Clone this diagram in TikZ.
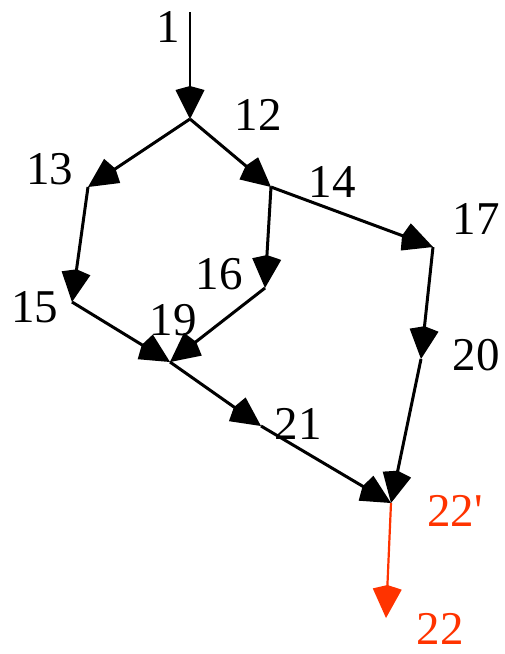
\documentclass[tikz,border=0pt]{standalone}
\usepackage{fontspec}
\setmainfont{Liberation Serif}[Ligatures=TeXOff]
\usetikzlibrary{arrows.meta}
\definecolor{redflow}{RGB}{255,51,0}
\tikzset{
  tiphead/.tip={Kite[length=33pt,width=29pt,inset=4pt]},
  flow/.style={line width=3pt, -tiphead},
  thinflow/.style={line width=1.8pt, -tiphead},
  redarrow/.style={line width=2.2pt, draw=redflow, -{Kite[length=33pt,width=29pt,inset=4pt,fill=redflow]}},
  lbl/.style={inner sep=0pt, font=\fontsize{47}{47}\selectfont},
  redlbl/.style={lbl, text=redflow}
}
\begin{document}
\begin{tikzpicture}[x=1pt,y=-1pt]
\useasboundingbox (0,0) rectangle (505,654);
% points
\coordinate (n1) at (190,12);
\coordinate (n12) at (190,119);
\coordinate (n13) at (88,187);
\coordinate (n14) at (271,187);
\coordinate (n15) at (72,302);
\coordinate (n16) at (265,288);
\coordinate (n17) at (433,247);
\coordinate (n19) at (170,362);
\coordinate (n20) at (421,359);
\coordinate (n21) at (261,426);
\coordinate (n22p) at (391,503);
\coordinate (n22) at (386,618);
% labels
\node[lbl] (l1) at (168,27) {1};
\node[lbl] (l12) at (258,115) {12};
\node[lbl] (l13) at (50,169) {13};
\node[lbl] (l14) at (332,182) {14};
\node[lbl] (l15) at (35,307) {15};
\node[lbl] (l16) at (219,274) {16};
\node[lbl] (l17) at (476,219) {17};
\node[lbl] (l19) at (173,320) {19};
\node[lbl] (l20) at (476,355) {20};
\node[lbl] (l21) at (298,424) {21};
\node[redlbl] (l22p) at (455,511) {22'};
\node[redlbl] (l22) at (440,629) {22};
% edges
\draw[thinflow] (n1) -- (n12);
\draw[flow] (n12) -- (n13);
\draw[flow] (n12) -- (n14);
\draw[flow] (n13) -- (n15);
\draw[flow] (n14) -- (n16);
\draw[flow] (n14) -- (n17);
\draw[flow] (n15) -- (n19);
\draw[flow] (n16) -- (n19);
\draw[flow] (n19) -- (n21);
\draw[flow] (n17) -- (n20);
\draw[flow] (n20) -- (n22p);
\draw[flow] (n21) -- (n22p);
\draw[redarrow] (n22p) -- (n22);
\end{tikzpicture}
\end{document}
